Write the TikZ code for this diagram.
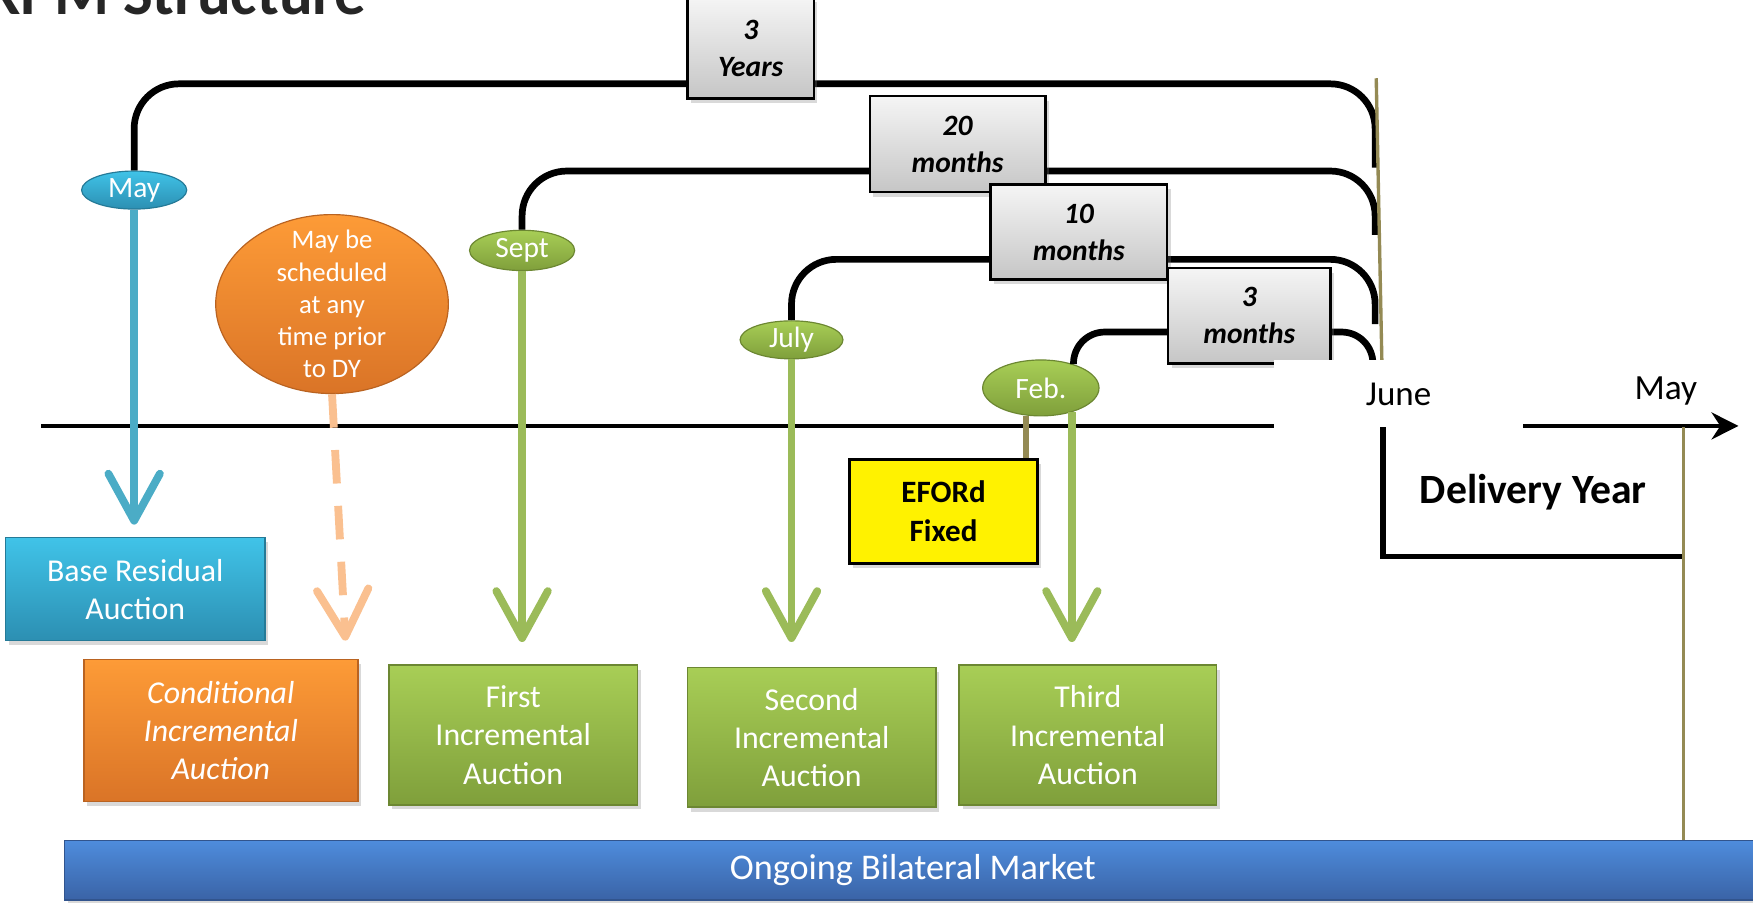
\documentclass[tikz,border=0pt]{standalone}
\usepackage{fontspec}
\setmainfont{Carlito}
\usetikzlibrary{arrows.meta, shapes.geometric, shadows}

\definecolor{tlcyantop}{HTML}{40C3E8}
\definecolor{tlcyan}{HTML}{2C8FB2}
\definecolor{tlcyanline}{HTML}{4BACC6}
\definecolor{tlgreentop}{HTML}{A8CE56}
\definecolor{tlgreen}{HTML}{7F9F3B}
\definecolor{tlgreenline}{HTML}{9BBB59}
\definecolor{tlorangetop}{HTML}{FD9B37}
\definecolor{tlorange}{HTML}{DA7427}
\definecolor{tlorangeline}{HTML}{FAC090}
\definecolor{tlbluetop}{HTML}{4E8CDC}
\definecolor{tlblue}{HTML}{3A63A6}
\definecolor{tlolive}{HTML}{948A54}

\begin{document}
\begin{tikzpicture}
    [
        x = 0.01cm, y = -0.01cm,
        every node/.style = {inner sep = 0pt},
        softshadow/.style = {drop shadow = {opacity = 0.3, shadow xshift = 0.03cm, shadow yshift = -0.04cm}},
        auction/.style = {rectangle, draw = #1!85!black, line width = 0.4pt, top color = #1top, bottom color = #1, text = white, align = center, font = \fontsize{8.1}{9.7}\selectfont, softshadow},
        month/.style = {ellipse, draw = #1!85!black, line width = 0.3pt, top color = #1top, bottom color = #1, text = white, font = \fontsize{7.5}{9}\selectfont},
        gap/.style = {rectangle, draw, line width = 0.6pt, top color = gray!8, bottom color = gray!45, align = center, font = \bfseries\itshape\fontsize{7.5}{9.4}\selectfont, softshadow},
        span/.style = {line width = 0.06cm, rounded corners = 0.4cm},
        fall/.style = {line width = 0.07cm, draw = #1, -{Straight Barb[length = 0.42cm, width = 0.46cm, round]}},
        olivebar/.style = {draw = tlolive, line width = 0.03cm}
    ]

    \useasboundingbox (0,0) rectangle (1568,807);

    \node[anchor = base west, font = \bfseries\fontsize{16}{18}\selectfont, text = black!85] (title) at (-14,13) {RPM Structure};

    \node[month = tlcyan, minimum width = 0.94cm, minimum height = 0.34cm] (may) at (120,170) {May};
    \node[month = tlgreen, minimum width = 0.94cm, minimum height = 0.36cm] (sept) at (467,224) {Sept};
    \node[month = tlgreen, minimum width = 0.92cm, minimum height = 0.34cm] (july) at (708,304) {July};
    \node[month = tlgreen, minimum width = 1.04cm, minimum height = 0.50cm] (feb) at (931,347) {Feb.};

    \coordinate (c3y) at (1230,75);
    \coordinate (e3y) at (1230,150);
    \coordinate (c20) at (1230,153);
    \coordinate (e20) at (1230,210);
    \coordinate (c10) at (1230,232);
    \coordinate (e10) at (1230,290);
    \coordinate (c3m) at (1228,297);
    \coordinate (e3m) at (1228,345);

    \draw[span] (may.north) |- (c3y) -- (e3y);
    \draw[span] (sept.north) |- (c20) -- (e20);
    \draw[span] (july.north) |- (c10) -- (e10);
    \draw[span, rounded corners = 0.28cm] (feb.36) |- (c3m) -- (e3m);

    \node[minimum width = 2.67cm, minimum height = 1.14cm, font = \bfseries\fontsize{10.6}{12}\selectfont] (dy) at (1371.5,440) {Delivery Year};

    \coordinate (olivetop) at (1231,70);
    \draw[olivebar] (olivetop) -- (dy.north west);

    \node[gap, minimum width = 1.13cm, minimum height = 0.90cm] (yr3) at (671.5,43) {3\\Years};
    \node[gap, minimum width = 1.57cm, minimum height = 0.86cm] (mo20) at (856.5,129) {20\\months};
    \node[gap, minimum width = 1.58cm, minimum height = 0.85cm] (mo10) at (965,207.5) {10\\months};
    \node[gap, minimum width = 1.45cm, minimum height = 0.85cm] (mo3) at (1117.5,282.5) {3\\months};

    \coordinate (t0) at (37,381);
    \coordinate (t1) at (1555,381);
    \draw[line width = 0.04cm, -{Stealth[length = 0.24cm, width = 0.24cm]}] (t0) -- (t1);

    \node[fill = white, minimum width = 2.22cm, minimum height = 0.61cm, font = \fontsize{8.9}{10}\selectfont] (june) at (1251,352.5) {June};
    \node[font = \fontsize{9}{10}\selectfont] (dyend) at (1490,350) {May};

    \draw[line width = 0.05cm] (dy.north west) -- (dy.south west) -- (dy.south east);

    \node[month = tlorange, minimum width = 2.08cm, minimum height = 1.60cm, inner sep = -0.2cm, font = \fontsize{6.8}{8.2}\selectfont, align = center] (prior) at (297,272) {May be\\scheduled\\at any\\time prior\\to DY};

    \node[auction = tlcyan, minimum width = 2.32cm, minimum height = 0.92cm] (bra) at (121,527) {Base Residual\\Auction};
    \node[auction = tlorange, minimum width = 2.45cm, minimum height = 1.27cm, font = \itshape\fontsize{8.1}{9.7}\selectfont] (cia) at (197.5,653.5) {Conditional\\Incremental\\Auction};
    \node[auction = tlgreen, minimum width = 2.22cm, minimum height = 1.25cm] (fia) at (459,657.5) {First\\Incremental\\Auction};
    \node[auction = tlgreen, minimum width = 2.22cm, minimum height = 1.25cm] (sia) at (726,659.5) {Second\\Incremental\\Auction};
    \node[auction = tlgreen, minimum width = 2.30cm, minimum height = 1.25cm] (tia) at (973,657.5) {Third\\Incremental\\Auction};

    \node[rectangle, draw, line width = 0.03cm, fill = yellow, minimum width = 1.68cm, minimum height = 0.93cm, align = center, font = \bfseries\fontsize{7.9}{10}\selectfont, softshadow] (eford) at (844,457.5) {EFORd\\Fixed};

    \coordinate (ciatip) at (309,573);
    \draw[fall = tlcyanline, shorten >= 0.11cm] (may.south) -- (may.south |- bra.north);
    \draw[fall = tlorangeline, dash pattern = on 0.3cm off 0.2cm] (prior.south) -- (ciatip);
    \draw[fall = tlgreenline, shorten >= 0.2cm] (sept.south) -- (sept.south |- fia.north);
    \draw[fall = tlgreenline, shorten >= 0.22cm] (july.south) -- (july.south |- sia.north);
    \draw[fall = tlgreenline, shorten >= 0.2cm] (feb.-38) -- (feb.-38 |- tia.north);
    \draw[olivebar, line width = 0.05cm] (feb.-118) -- (feb.-118 |- eford.north);

    \draw[olivebar] (dy.north east) -- (dy.north east |- 0,752);

    \node[auction = tlblue, minimum width = 15.17cm, minimum height = 0.53cm, font = \fontsize{9.2}{11}\selectfont] (obm) at (816.5,778.5) {Ongoing Bilateral Market};
\end{tikzpicture}
\end{document}
